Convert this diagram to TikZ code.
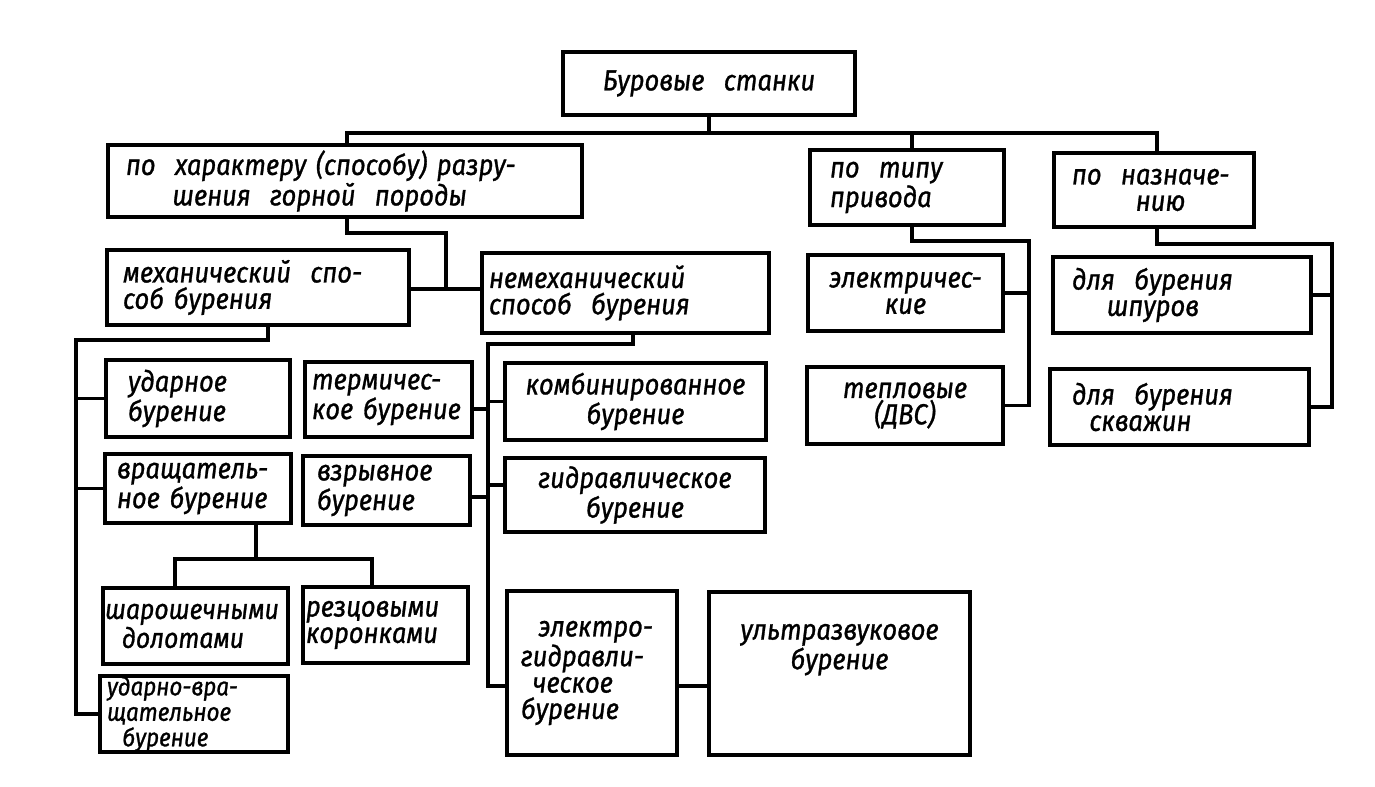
\documentclass[tikz,border=0pt]{standalone}
\usepackage{fontspec}
\setmainfont{Fira Sans}[FakeStretch=0.88, FakeBold=1]
\usepackage{tikz}

\tikzset{
  blk/.style n args={3}{draw, line width=2pt, minimum width=#1*0.02cm,
    minimum height=#2*0.02cm, inner sep=0pt, align=left,
    /utils/exec={\pgfmathsetmacro\blkw{(#1-2*#3)*0.02*28.4528}},
    text width=\blkw pt,
    font=\itshape\fontsize{16.5}{15}\selectfont},
  link/.style={line width=1.8pt}
}

\begin{document}
\begin{tikzpicture}[x=0.02cm, y=-0.02cm]
			\useasboundingbox (0,0) rectangle (1375,787);
			
			\node[blk={292}{63}{12}, align=center] (top) at (709,83.5) {Буровые\ \ станки};
			\node[blk={474}{72}{18}] (harakter) at (345,181) {по\ \ характеру (способу) разру-\\\hspace{1.6em}шения\ \ горной\ \ породы};
			\node[blk={194}{75}{20}] (privod) at (907,187.5) {по\ \ типу\\привода};
			\node[blk={200}{74}{18}] (naznach) at (1154,190) {по\ \ назначе-\\\hspace{2.2em}нию};
			
			\node[blk={302}{75}{16}] (mech) at (258,287.5) {механический\ \ спо-\\соб бурения};
			\node[blk={287}{80}{7}] (nemech) at (625.5,293) {немеханический\\способ\ \ бурения};
			\node[blk={195}{76}{10}, align=center] (elektr) at (905.5,293) {электричес-\\кие};
			\node[blk={196}{77}{10}, align=center] (teplo) at (905,405.5) {тепловые\\(ДВС)};
			\node[blk={258}{76}{19}] (shpur) at (1182,295) {для\ \ бурения\\\hspace{1.2em}шпуров};
			\node[blk={259}{76}{22}] (skvazh) at (1179.5,407) {для\ \ бурения\\\hspace{0.6em}скважин};
			
			\node[blk={184}{77}{22}] (udar) at (198,398.5) {ударное\\бурение};
			\node[blk={167}{75}{7}] (termich) at (388.5,399.5) {термичес-\\кое бурение};
			\node[blk={186}{69}{12}] (vrash) at (198,488.5) {вращатель-\\ное бурение};
			\node[blk={167}{69}{14}] (vzryv) at (386.5,490.5) {взрывное\\бурение};
			\node[blk={261}{77}{6}, align=center] (kombin) at (635.5,401.5) {комбинированное\\бурение};
			\node[blk={260}{74}{6}, align=center] (gidr) at (635,495) {гидравлическое\\бурение};
			
			\node[blk={185}{76}{2}, font=\itshape\fontsize{16}{15}\selectfont] (sharosh) at (195.5,626) {шарошечными\\\hspace{0.6em}долотами};
			\node[blk={165}{76}{3}] (rezc) at (385.5,625) {резцовыми\\коронками};
			\node[blk={188}{76}{7}, font=\itshape\fontsize{14.5}{14.5}\selectfont] (udarvr) at (194,714) {ударно-вра-\\щательное\\\hspace{0.6em}бурение};
			\node[blk={170}{164}{14}] (elgidr) at (592,673) {\hspace{0.6em}электро-\\гидравли-\\\hspace{0.4em}ческое\\бурение};
			\node[blk={261}{163}{8}, align=center] (ultra) at (839.5,673.5) {ультразвуковое\\бурение\\[0.55cm]\mbox{}};
			
			\coordinate (bus) at (709,133);
			\coordinate (busl) at (347,133);
			\coordinate (busr) at (1157,133);
			\coordinate (hb) at (347,233);
			\coordinate (j1) at (446,289);
			\coordinate (mb) at (268,340);
			\coordinate (mbl) at (76,340);
			\coordinate (nb) at (633,344);
			\coordinate (nbl) at (488,344);
			\coordinate (nbb) at (488,686);
			\coordinate (vb) at (256,559);
			\coordinate (vbl) at (175,559);
			\coordinate (vbr) at (372,559);
			\coordinate (pb) at (912,241);
			\coordinate (pbr) at (1029,241);
			\coordinate (zb) at (1157,244);
			\coordinate (zbr) at (1332,244);
			
			\draw[link] (top.south) -- (bus);
			\draw[link] (busl |- harakter.north) -- (busl) -- (busr) -- (busr |- naznach.north);
			\draw[link] (bus -| pb) -- (pb |- privod.north);
			
			\draw[link] (hb |- harakter.south) -- (hb) -| (j1);
			\draw[link] (mech.east |- j1) -- (nemech.west |- j1);
			
			\draw[link] (mb |- mech.south) -- (mb) -- (mbl) |- (udarvr.west);
			\foreach \n in {udar,vrash}
				\draw[link] (\n.west) -- (\n.west -| mbl);
			\draw[link] (vb |- vrash.south) -- (vb);
			\draw[link] (vbl |- sharosh.north) -- (vbl) -- (vbr) -- (vbr |- rezc.north);
			
			\draw[link] (nb |- nemech.south) -- (nb) -- (nbl) -- (nbb) -- (nbb -| elgidr.west);
			\draw[link] (nbb -| elgidr.east) -- (nbb -| ultra.west);
			\draw[link] ([yshift=-0.19cm]termich.east) -- ([yshift=-0.19cm]termich.east -| nbl);
			\draw[link] ([yshift=-0.13cm]vzryv.east) -- ([yshift=-0.13cm]vzryv.east -| nbl);
			\draw[link] (kombin.west) -- (kombin.west -| nbl);
			\draw[link] ([yshift=0.2cm]gidr.west) -- ([yshift=0.2cm]gidr.west -| nbl);
			
			\draw[link] (pb |- privod.south) -- (pb) -- (pbr) |- (teplo.east);
			\draw[link] (elektr.east) -- (elektr.east -| pbr);
			\draw[link] (zb |- naznach.south) -- (zb) -- (zbr) |- (skvazh.east);
			\draw[link] (shpur.east) -- (shpur.east -| zbr);
		\end{tikzpicture}
\end{document}
